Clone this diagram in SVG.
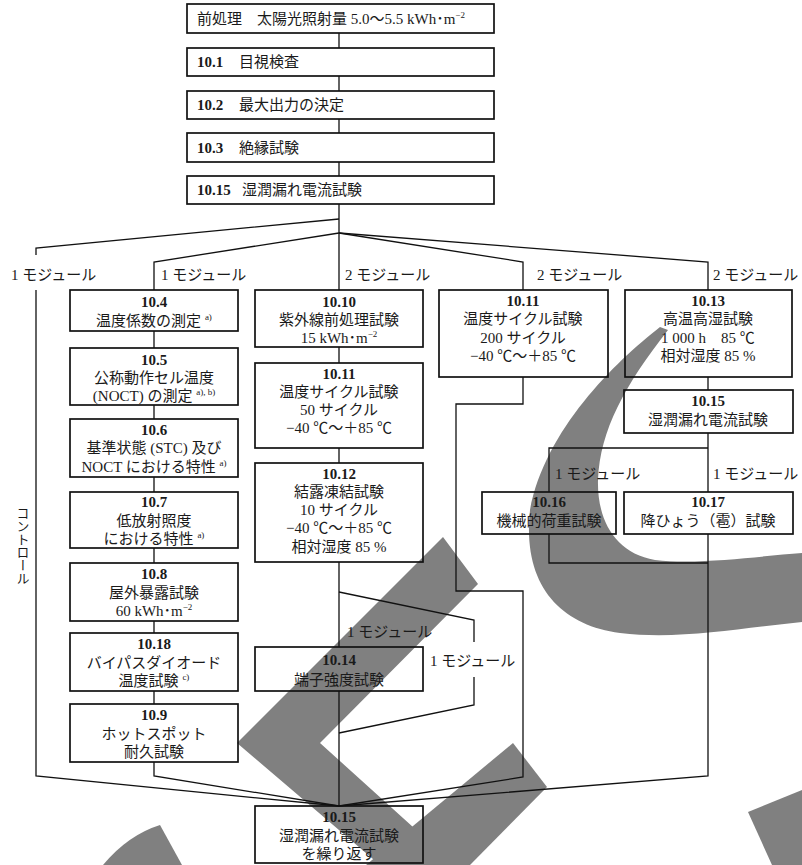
<svg xmlns="http://www.w3.org/2000/svg" width="802" height="865" viewBox="0 0 802 865">
<style>
text{font-family:'Liberation Serif','Noto Sans CJK JP',serif;font-size:15px;fill:#1a1a1a}
.c{text-anchor:middle}
.n{font-weight:bold}
.s{font-size:9px}
.box{fill:none;stroke:#111;stroke-width:1.7}
.ln{fill:none;stroke:#111;stroke-width:1.3}
.g{fill:#808080}
</style>
<rect width="802" height="865" fill="#fff"/>
<g id="overlay">
<path class="g" d="M660,327 C615,362 545,430 530,510 C522,585 560,625 620,633 C680,640 740,628 802,622 L802,553 C760,556 700,565 655,560 C615,553 597,520 598,480 C600,430 625,385 668,330 Z"/>
<polygon class="g" points="443,537 478,584 320,743 455,865 380,865 237,743"/>
<polygon class="g" points="513,743 547,787 470,865 366,865"/>
<path class="g" d="M103,865 Q128,835 160,825 L182,865 Z"/>
<polygon class="g" points="748,812 802,790 802,865 772,865"/>
</g>
<g id="connectors">
<path class="ln" d="M339,33V48M339,76V91M339,119V133M339,162V176M339,204V290"/>
<polyline class="ln" points="339,219 36,248 36,255"/>
<polyline class="ln" points="36,290 36,776 339,806"/>
<polyline class="ln" points="339,233 154,262 154,290"/>
<polyline class="ln" points="339,233 523,262 523,290"/>
<polyline class="ln" points="339,233 708,262 708,290"/>
<path class="ln" d="M154,331V348M154,405V419M154,477V492M154,548V563M154,621V633M154,691V704"/>
<polyline class="ln" points="154,762 154,776 339,806"/>
<path class="ln" d="M339,347V363M339,448V463M339,562V647M339,691V806"/>
<polyline class="ln" points="339,592 474,620 474,642"/>
<polyline class="ln" points="474,677 474,705 339,733"/>
<polyline class="ln" points="523,377 523,404 456,404 456,591 523,591 523,777 339,806"/>
<path class="ln" d="M708,377V390M708,433V492"/>
<polyline class="ln" points="708,448 549,448 549,492"/>
<polyline class="ln" points="549,534 549,563 708,563"/>
<polyline class="ln" points="708,534 708,776 339,806"/>
</g>
<g id="labels">
<text x="11" y="280">1 モジュール</text>
<text x="161" y="280">1 モジュール</text>
<text x="345" y="280">2 モジュール</text>
<text x="537" y="280">2 モジュール</text>
<text x="713" y="280">2 モジュール</text>
<text x="555" y="479">1 モジュール</text>
<text x="713" y="479">1 モジュール</text>
<text x="347" y="637">1 モジュール</text>
<text x="430" y="666">1 モジュール</text>
<text x="22" y="507" writing-mode="vertical-rl" style="font-size:13px">コントロール</text>
</g>
<g id="pre">
<rect class="box" x="187" y="4" width="307" height="29"/>
<text x="197" y="24">前処理　太陽光照射量 5.0～5.5 kWh･m<tspan class="s" dy="-6">−2</tspan></text>
</g>
<g id="n10_1">
<rect class="box" x="187" y="48" width="307" height="28"/>
<text x="197" y="67"><tspan class="n">10.1</tspan><tspan x="239">目視検査</tspan></text>
</g>
<g id="n10_2">
<rect class="box" x="187" y="91" width="307" height="28"/>
<text x="197" y="110"><tspan class="n">10.2</tspan><tspan x="239">最大出力の決定</tspan></text>
</g>
<g id="n10_3">
<rect class="box" x="187" y="133" width="307" height="29"/>
<text x="197" y="153"><tspan class="n">10.3</tspan><tspan x="239">絶縁試験</tspan></text>
</g>
<g id="n10_15a">
<rect class="box" x="187" y="176" width="307" height="28"/>
<text x="197" y="195"><tspan class="n">10.15</tspan><tspan x="242">湿潤漏れ電流試験</tspan></text>
</g>
<g id="n10_4">
<rect class="box" x="70" y="290" width="168" height="41"/>
<text class="c n" x="154" y="307">10.4</text>
<text class="c" x="154" y="326">温度係数の測定 <tspan class="s" dy="-6">a)</tspan></text>
</g>
<g id="n10_5">
<rect class="box" x="70" y="348" width="168" height="57"/>
<text class="c n" x="154" y="365">10.5</text>
<text class="c" x="154" y="383">公称動作セル温度</text>
<text class="c" x="154" y="401">(NOCT) の測定 <tspan class="s" dy="-6">a), b)</tspan></text>
</g>
<g id="n10_6">
<rect class="box" x="70" y="419" width="168" height="58"/>
<text class="c n" x="154" y="435">10.6</text>
<text class="c" x="154" y="453">基準状態 (STC) 及び</text>
<text class="c" x="154" y="472">NOCT における特性 <tspan class="s" dy="-6">a)</tspan></text>
</g>
<g id="n10_7">
<rect class="box" x="70" y="492" width="168" height="56"/>
<text class="c n" x="154" y="507">10.7</text>
<text class="c" x="154" y="526">低放射照度</text>
<text class="c" x="154" y="544">における特性 <tspan class="s" dy="-6">a)</tspan></text>
</g>
<g id="n10_8">
<rect class="box" x="70" y="563" width="168" height="58"/>
<text class="c n" x="154" y="579">10.8</text>
<text class="c" x="154" y="598">屋外暴露試験</text>
<text class="c" x="154" y="616">60 kWh･m<tspan class="s" dy="-6">−2</tspan></text>
</g>
<g id="n10_18">
<rect class="box" x="70" y="633" width="168" height="58"/>
<text class="c n" x="154" y="649">10.18</text>
<text class="c" x="154" y="668">バイパスダイオード</text>
<text class="c" x="154" y="686">温度試験 <tspan class="s" dy="-6">c)</tspan></text>
</g>
<g id="n10_9">
<rect class="box" x="70" y="704" width="168" height="58"/>
<text class="c n" x="154" y="720">10.9</text>
<text class="c" x="154" y="739">ホットスポット</text>
<text class="c" x="154" y="757">耐久試験</text>
</g>
<g id="n10_10">
<rect class="box" x="255" y="290" width="168" height="57"/>
<text class="c n" x="339" y="307">10.10</text>
<text class="c" x="339" y="325">紫外線前処理試験</text>
<text class="c" x="339" y="343">15 kWh･m<tspan class="s" dy="-6">−2</tspan></text>
</g>
<g id="n10_11a">
<rect class="box" x="255" y="363" width="168" height="85"/>
<text class="c n" x="339" y="379">10.11</text>
<text class="c" x="339" y="397">温度サイクル試験</text>
<text class="c" x="339" y="415">50 サイクル</text>
<text class="c" x="339" y="433">−40 ℃～＋85 ℃</text>
</g>
<g id="n10_12">
<rect class="box" x="255" y="463" width="168" height="99"/>
<text class="c n" x="339" y="479">10.12</text>
<text class="c" x="339" y="497">結露凍結試験</text>
<text class="c" x="339" y="515">10 サイクル</text>
<text class="c" x="339" y="533">−40 ℃～＋85 ℃</text>
<text class="c" x="339" y="552">相対湿度 85 %</text>
</g>
<g id="n10_14">
<rect class="box" x="255" y="647" width="168" height="44"/>
<text class="c n" x="339" y="665">10.14</text>
<text class="c" x="339" y="685">端子強度試験</text>
</g>
<g id="n10_11b">
<rect class="box" x="439" y="290" width="169" height="87"/>
<text class="c n" x="523" y="306">10.11</text>
<text class="c" x="523" y="324">温度サイクル試験</text>
<text class="c" x="523" y="343">200 サイクル</text>
<text class="c" x="523" y="361">−40 ℃～＋85 ℃</text>
</g>
<g id="n10_13">
<rect class="box" x="625" y="290" width="167" height="87"/>
<text class="c n" x="708" y="306">10.13</text>
<text class="c" x="708" y="324">高温高湿試験</text>
<text class="c" x="708" y="343">1 000 h　85 ℃</text>
<text class="c" x="708" y="361">相対湿度 85 %</text>
</g>
<g id="n10_15b">
<rect class="box" x="624" y="390" width="169" height="43"/>
<text class="c n" x="708" y="406">10.15</text>
<text class="c" x="708" y="425">湿潤漏れ電流試験</text>
</g>
<g id="n10_16">
<rect class="box" x="482" y="492" width="134" height="42"/>
<text class="c n" x="549" y="507">10.16</text>
<text class="c" x="549" y="526">機械的荷重試験</text>
</g>
<g id="n10_17">
<rect class="box" x="624" y="492" width="169" height="42"/>
<text class="c n" x="708" y="507">10.17</text>
<text class="c" x="708" y="526">降ひょう（雹）試験</text>
</g>
<g id="n10_15c">
<rect class="box" x="255" y="806" width="168" height="57"/>
<text class="c n" x="339" y="822">10.15</text>
<text class="c" x="339" y="841">湿潤漏れ電流試験</text>
<text class="c" x="339" y="859">を繰り返す</text>
</g>
</svg>
